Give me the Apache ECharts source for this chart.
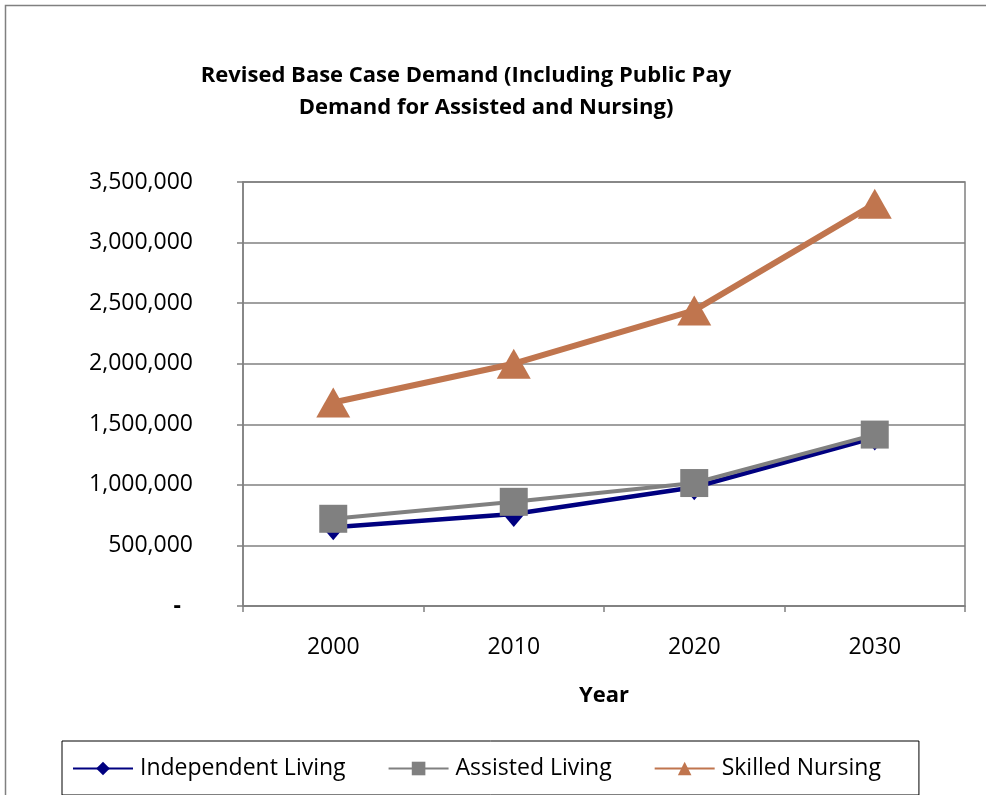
<!DOCTYPE html>
<html>
<head>
<meta charset="utf-8">
<script src="https://cdn.jsdelivr.net/npm/echarts@6/dist/echarts.min.js"></script>
<style>
  html, body { margin: 0; padding: 0; background: #fff; }
  #chart { width: 986px; height: 795px; }
</style>
</head>
<body>
<div id="chart"></div>
<script>
// Demand projections by care type
const years = ['2000', '2010', '2020', '2030'];
const independentLiving = [650000, 760000, 980000, 1390000];
const assistedLiving = [720000, 860000, 1015000, 1415000];
const skilledNursing = [1680000, 2000000, 2440000, 3320000];
const yTicks = { min: 0, max: 3500000, interval: 500000 };

const FONT = '"Open Sans", "Noto Sans", sans-serif';
const titleStyle = { fontFamily: FONT, fontSize: 22, fontWeight: 'bold', color: '#000' };

const chart = echarts.init(document.getElementById('chart'), null, { renderer: 'canvas' });

chart.setOption({
  backgroundColor: '#ffffff',
  animation: false,
  title: [
    {
      text: 'Revised Base Case Demand (Including Public Pay',
      left: 466, top: 65, textAlign: 'center', padding: 0,
      textStyle: titleStyle
    },
    {
      text: 'Demand for Assisted and Nursing)',
      left: 486, top: 97, textAlign: 'center', padding: 0,
      textStyle: titleStyle
    }
  ],
  graphic: [
    {
      type: 'rect',
      shape: { x: 5.5, y: 5.5, width: 1000, height: 800 },
      style: { fill: 'none', stroke: '#808080', lineWidth: 1.5 },
      silent: true
    }
  ],
  legend: {
    left: 62,
    top: 741,
    padding: [16, 38, 15, 10],
    borderColor: '#000',
    borderWidth: 1,
    itemGap: 42,
    itemWidth: 60,
    itemHeight: 17,
    textStyle: { fontFamily: FONT, fontSize: 23, color: '#000', padding: [0, 0, 0, 2] },
    data: ['Independent Living', 'Assisted Living', 'Skilled Nursing']
  },
  grid: {
    left: 243,
    right: 21,
    top: 182,
    bottom: 189,
    show: true,
    borderColor: '#808080',
    borderWidth: 1.5
  },
  xAxis: {
    type: 'category',
    data: years,
    boundaryGap: true,
    name: 'Year',
    nameLocation: 'middle',
    nameGap: 79,
    nameTextStyle: { fontFamily: FONT, fontSize: 22, fontWeight: 'bold', color: '#000' },
    axisLine: { lineStyle: { color: '#808080', width: 1.5 } },
    axisTick: { show: true, length: 6, alignWithLabel: false, lineStyle: { color: '#808080', width: 1.5 } },
    axisLabel: { fontFamily: FONT, fontSize: 23, color: '#000', margin: 30 },
    splitLine: { show: false }
  },
  yAxis: {
    type: 'value',
    min: yTicks.min,
    max: yTicks.max,
    interval: yTicks.interval,
    axisLine: { show: true, lineStyle: { color: '#808080', width: 1.5 } },
    axisTick: { show: true, length: 6, lineStyle: { color: '#808080', width: 1.5 } },
    axisLabel: {
      fontFamily: FONT,
      fontSize: 23,
      color: '#000',
      margin: 50,
      formatter: function (v) {
        return v === 0 ? '{dash|-}' : v.toLocaleString('en-US');
      },
      rich: {
        dash: { fontFamily: FONT, fontSize: 23, color: '#000', fontWeight: 'bold', padding: [0, 12, 0, 0] }
      }
    },
    splitLine: { show: true, lineStyle: { color: '#808080', width: 1.5 } }
  },
  series: [
    {
      name: 'Independent Living',
      type: 'line',
      data: independentLiving,
      symbol: 'diamond',
      symbolSize: [22, 26],
      itemStyle: { color: '#000080' },
      lineStyle: { color: '#000080', width: 4.5 },
      z: 3
    },
    {
      name: 'Assisted Living',
      type: 'line',
      data: assistedLiving,
      symbol: 'rect',
      symbolSize: 28,
      itemStyle: { color: '#808080' },
      lineStyle: { color: '#808080', width: 4 },
      z: 4
    },
    {
      name: 'Skilled Nursing',
      type: 'line',
      data: skilledNursing,
      symbol: 'triangle',
      symbolSize: [34, 30],
      itemStyle: { color: '#C0754E' },
      lineStyle: { color: '#C0754E', width: 6 },
      z: 5
    }
  ]
});
</script>
</body>
</html>
